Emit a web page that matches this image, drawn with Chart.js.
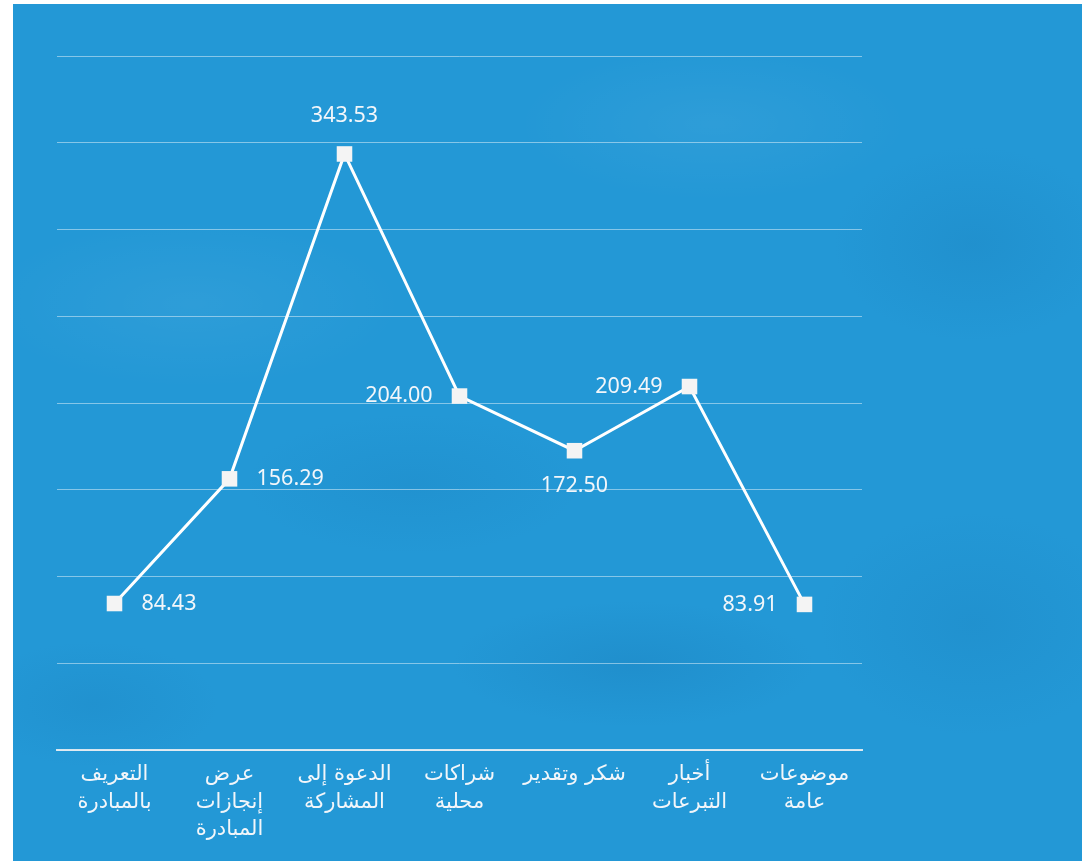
<!DOCTYPE html>
<html lang="ar">
<head>
<meta charset="utf-8">
<title>توزيع المنشورات</title>
<script src="https://cdn.jsdelivr.net/npm/chart.js@4.4.1/dist/chart.umd.min.js"></script>
<style>
  html, body { margin: 0; padding: 0; background: #ffffff; }
  body { width: 1082px; height: 861px; position: relative; overflow: hidden; }
  #paper {
    position: absolute; left: 13px; top: 4px; right: 0; bottom: 0;
    background-color: #2398d6;
    background-image:
      radial-gradient(ellipse 260px 90px at 620px 660px, rgba(20,110,170,0.22), rgba(20,110,170,0) 70%),
      radial-gradient(ellipse 200px 140px at 960px 240px, rgba(20,110,170,0.18), rgba(20,110,170,0) 70%),
      radial-gradient(ellipse 300px 120px at 180px 300px, rgba(255,255,255,0.05), rgba(255,255,255,0) 70%),
      radial-gradient(ellipse 240px 100px at 400px 480px, rgba(20,110,170,0.14), rgba(20,110,170,0) 70%),
      radial-gradient(ellipse 220px 160px at 960px 620px, rgba(20,110,170,0.16), rgba(20,110,170,0) 70%),
      radial-gradient(ellipse 280px 110px at 700px 120px, rgba(255,255,255,0.05), rgba(255,255,255,0) 70%),
      radial-gradient(ellipse 180px 90px at 80px 700px, rgba(20,110,170,0.15), rgba(20,110,170,0) 70%);
  }
  #wrap { position: absolute; left: 0; top: 0; width: 1082px; height: 861px; }
</style>
</head>
<body>
<div id="paper"></div>
<div id="wrap"><canvas id="chart" width="1082" height="861"></canvas></div>
<script>
// Post topics and their values
const categories = [
  ['التعريف', 'بالمبادرة'],
  ['عرض', 'إنجازات', 'المبادرة'],
  ['الدعوة إلى', 'المشاركة'],
  ['شراكات', 'محلية'],
  ['شكر وتقدير'],
  ['أخبار', 'التبرعات'],
  ['موضوعات', 'عامة']
];
const values = [84.43, 156.29, 343.53, 204.00, 172.50, 209.49, 83.91];
const yTicks = [0, 50, 100, 150, 200, 250, 300, 350, 400];

// Where each value label sits relative to its point
const labelSide = ['right', 'right', 'top', 'left', 'bottom', 'left', 'left'];

const textColor = '#f2f6fa';
const numFont = '21.5px "Noto Sans", "DejaVu Sans", sans-serif';

const valueLabels = {
  id: 'valueLabels',
  afterDatasetsDraw(chart) {
    const meta = chart.getDatasetMeta(0);
    const ctx = chart.ctx;
    ctx.save();
    ctx.font = numFont;
    ctx.fillStyle = textColor;
    ctx.textBaseline = 'middle';
    meta.data.forEach((pt, i) => {
      const txt = values[i].toFixed(2);
      const side = labelSide[i];
      let x = pt.x, y = pt.y;
      if (side === 'right') { ctx.textAlign = 'left'; x += 27; }
      else if (side === 'left') { ctx.textAlign = 'right'; x -= 27; }
      else if (side === 'top') { ctx.textAlign = 'center'; y -= 38; }
      else { ctx.textAlign = 'center'; y += 35; }
      ctx.fillText(txt, x, y);
    });
    ctx.restore();
  }
};

new Chart(document.getElementById('chart'), {
  type: 'line',
  data: {
    labels: categories,
    datasets: [{
      data: values,
      borderColor: '#ffffff',
      borderWidth: 3,
      pointStyle: 'rect',
      pointRadius: 11,
      pointHoverRadius: 11,
      pointBackgroundColor: '#f4f4f4',
      pointBorderColor: '#f4f4f4',
      pointBorderWidth: 0,
      tension: 0,
      fill: false
    }]
  },
  options: {
    responsive: false,
    animation: false,
    events: [],
    layout: { padding: { left: 57, right: 220, top: 56, bottom: 0 } },
    plugins: { legend: { display: false }, tooltip: { enabled: false } },
    scales: {
      x: {
        offset: true,
        grid: { display: false, drawTicks: false },
        border: { display: true, color: 'rgba(235,238,242,0.9)', width: 2 },
        ticks: {
          color: textColor,
          font: { family: '"DejaVu Sans", "Noto Sans", sans-serif', size: 21, lineHeight: 1.31 },
          padding: 11,
          maxRotation: 0,
          autoSkip: false
        },
        afterFit(scale) { scale.height = 111; }
      },
      y: {
        min: 0,
        max: 400,
        afterBuildTicks(scale) { scale.ticks = yTicks.map(v => ({ value: v })); },
        grid: { color: 'rgba(255,255,255,0.45)', lineWidth: 1, drawTicks: false },
        border: { display: false },
        ticks: { display: false },
        afterFit(scale) { scale.width = 0; }
      }
    }
  },
  plugins: [valueLabels]
});
</script>
</body>
</html>
